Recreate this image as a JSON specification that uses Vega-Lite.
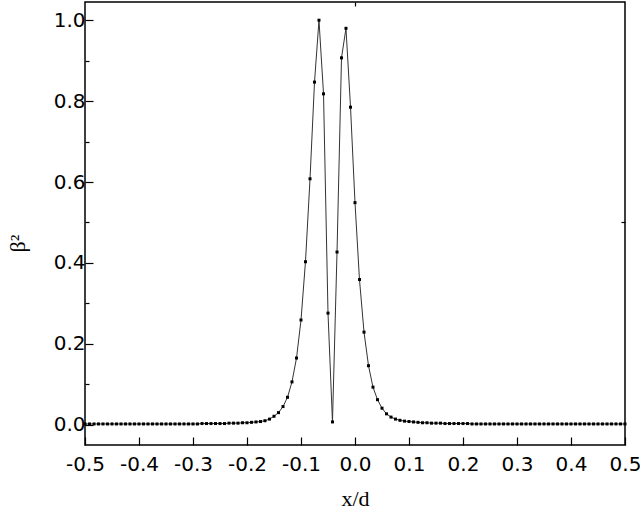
{
  "$schema": "https://vega.github.io/schema/vega-lite/v6.json",
  "autosize": {"type": "none"},
  "padding": {"left": 85, "top": 2, "right": 15, "bottom": 73},
  "width": 540,
  "height": 443,
  "background": "white",
  "config": {
    "view": {"stroke": "black", "strokeWidth": 1.5},
    "axis": {"labelFont": "DejaVu Sans", "labelFontSize": 20, "labelColor": "black", "tickColor": "black", "tickWidth": 1.2, "domain": false, "grid": false, "titleColor": "black", "titleFontWeight": "normal"}
  },
  "data": {"values": [
    {"x": -0.5, "y": 0.002}, {"x": -0.4917, "y": 0.002}, {"x": -0.4833, "y": 0.002}, {"x": -0.475, "y": 0.002},
    {"x": -0.4667, "y": 0.002}, {"x": -0.4583, "y": 0.002}, {"x": -0.45, "y": 0.002}, {"x": -0.4417, "y": 0.002},
    {"x": -0.4333, "y": 0.002}, {"x": -0.425, "y": 0.002}, {"x": -0.4167, "y": 0.002}, {"x": -0.4083, "y": 0.002},
    {"x": -0.4, "y": 0.002}, {"x": -0.3917, "y": 0.002}, {"x": -0.3833, "y": 0.002}, {"x": -0.375, "y": 0.002},
    {"x": -0.3667, "y": 0.002}, {"x": -0.3583, "y": 0.002}, {"x": -0.35, "y": 0.002}, {"x": -0.3417, "y": 0.002},
    {"x": -0.3333, "y": 0.002}, {"x": -0.325, "y": 0.002}, {"x": -0.3167, "y": 0.002}, {"x": -0.3083, "y": 0.002},
    {"x": -0.3, "y": 0.002}, {"x": -0.2917, "y": 0.002}, {"x": -0.2833, "y": 0.003}, {"x": -0.275, "y": 0.003},
    {"x": -0.2667, "y": 0.003}, {"x": -0.2583, "y": 0.003}, {"x": -0.25, "y": 0.003}, {"x": -0.2417, "y": 0.003},
    {"x": -0.2333, "y": 0.004}, {"x": -0.225, "y": 0.004}, {"x": -0.2167, "y": 0.004}, {"x": -0.2083, "y": 0.005},
    {"x": -0.2, "y": 0.005}, {"x": -0.1917, "y": 0.006}, {"x": -0.1833, "y": 0.007}, {"x": -0.175, "y": 0.008},
    {"x": -0.1667, "y": 0.010}, {"x": -0.1583, "y": 0.014}, {"x": -0.15, "y": 0.021}, {"x": -0.1417, "y": 0.030},
    {"x": -0.1333, "y": 0.045}, {"x": -0.125, "y": 0.068}, {"x": -0.1167, "y": 0.106}, {"x": -0.1083, "y": 0.165},
    {"x": -0.1, "y": 0.259}, {"x": -0.0917, "y": 0.403}, {"x": -0.0833, "y": 0.608}, {"x": -0.075, "y": 0.847},
    {"x": -0.0667, "y": 1.0}, {"x": -0.0583, "y": 0.818}, {"x": -0.05, "y": 0.276}, {"x": -0.0417, "y": 0.007},
    {"x": -0.0333, "y": 0.427}, {"x": -0.025, "y": 0.907}, {"x": -0.0167, "y": 0.98}, {"x": -0.0083, "y": 0.785},
    {"x": 0.0, "y": 0.549}, {"x": 0.0083, "y": 0.359}, {"x": 0.0167, "y": 0.229}, {"x": 0.025, "y": 0.146},
    {"x": 0.0333, "y": 0.093}, {"x": 0.0417, "y": 0.062}, {"x": 0.05, "y": 0.041}, {"x": 0.0583, "y": 0.027},
    {"x": 0.0667, "y": 0.019}, {"x": 0.075, "y": 0.014}, {"x": 0.0833, "y": 0.011}, {"x": 0.0917, "y": 0.009},
    {"x": 0.1, "y": 0.008}, {"x": 0.1083, "y": 0.007}, {"x": 0.1167, "y": 0.006}, {"x": 0.125, "y": 0.005},
    {"x": 0.1333, "y": 0.005}, {"x": 0.1417, "y": 0.004}, {"x": 0.15, "y": 0.004}, {"x": 0.1583, "y": 0.004},
    {"x": 0.1667, "y": 0.003}, {"x": 0.175, "y": 0.003}, {"x": 0.1833, "y": 0.003}, {"x": 0.1917, "y": 0.003},
    {"x": 0.2, "y": 0.003}, {"x": 0.2083, "y": 0.003}, {"x": 0.2167, "y": 0.002}, {"x": 0.225, "y": 0.002},
    {"x": 0.2333, "y": 0.002}, {"x": 0.2417, "y": 0.002}, {"x": 0.25, "y": 0.002}, {"x": 0.2583, "y": 0.002},
    {"x": 0.2667, "y": 0.002}, {"x": 0.275, "y": 0.002}, {"x": 0.2833, "y": 0.002}, {"x": 0.2917, "y": 0.002},
    {"x": 0.3, "y": 0.002}, {"x": 0.3083, "y": 0.002}, {"x": 0.3167, "y": 0.002}, {"x": 0.325, "y": 0.002},
    {"x": 0.3333, "y": 0.002}, {"x": 0.3417, "y": 0.002}, {"x": 0.35, "y": 0.002}, {"x": 0.3583, "y": 0.002},
    {"x": 0.3667, "y": 0.002}, {"x": 0.375, "y": 0.002}, {"x": 0.3833, "y": 0.002}, {"x": 0.3917, "y": 0.002},
    {"x": 0.4, "y": 0.002}, {"x": 0.4083, "y": 0.002}, {"x": 0.4167, "y": 0.002}, {"x": 0.425, "y": 0.002},
    {"x": 0.4333, "y": 0.002}, {"x": 0.4417, "y": 0.002}, {"x": 0.45, "y": 0.002}, {"x": 0.4583, "y": 0.002},
    {"x": 0.4667, "y": 0.002}, {"x": 0.475, "y": 0.002}, {"x": 0.4833, "y": 0.002}, {"x": 0.4917, "y": 0.002},
    {"x": 0.5, "y": 0.002}
  ]},
  "layer": [
    {
      "layer": [
        {
          "mark": {"type": "line", "color": "#333333", "strokeWidth": 1, "clip": true},
          "encoding": {
            "x": {"field": "x", "type": "quantitative", "scale": {"domain": [-0.5, 0.5], "nice": false, "zero": false},
              "axis": {"orient": "bottom",
                "values": [-0.5, -0.45, -0.4, -0.35, -0.3, -0.25, -0.2, -0.15, -0.1, -0.05, 0, 0.05, 0.1, 0.15, 0.2, 0.25, 0.3, 0.35, 0.4, 0.45, 0.5],
                "labelExpr": "abs(datum.value*10 - round(datum.value*10)) < 0.01 ? replace(format(datum.value, '.1f'), '\u2212', '-') : ''",
                "tickSize": {"condition": {"test": "abs(datum.value*10 - round(datum.value*10)) < 0.01", "value": -8}, "value": -4},
                "labelPadding": 17, "labelFlush": false, "labelOverlap": false,
                "title": "x/d", "titleFont": "Liberation Serif", "titleFontSize": 22, "titlePadding": 14}},
            "y": {"field": "y", "type": "quantitative", "scale": {"domain": [-0.05, 1.045], "nice": false, "zero": false},
              "axis": {"orient": "left",
                "values": [0, 0.1, 0.2, 0.3, 0.4, 0.5, 0.6, 0.7, 0.8, 0.9, 1.0],
                "labelExpr": "round(datum.value*10) % 2 === 0 ? format(datum.value, '.1f') : ''",
                "tickSize": {"condition": {"test": "round(datum.value*10) % 2 === 0", "value": -8}, "value": -4},
                "labelPadding": 8, "labelFlush": false, "labelOverlap": false,
                "title": "β²", "titleFont": "Liberation Serif", "titleFontSize": 22,
                "titleX": -68, "titleY": 241, "titleAlign": "center", "titleBaseline": "middle", "titleAngle": -90}}
          }
        },
        {
          "mark": {"type": "point", "shape": "square", "size": 9, "filled": true, "color": "black", "opacity": 1},
          "encoding": {
            "x": {"field": "x", "type": "quantitative"},
            "y": {"field": "y", "type": "quantitative"}
          }
        }
      ]
    },
    {
      "mark": {"type": "point", "opacity": 0},
      "encoding": {
        "x": {"field": "x", "type": "quantitative", "axis": {"orient": "top", "values": [0], "labels": false, "title": null, "tickSize": -4}},
        "y": {"field": "y", "type": "quantitative", "axis": {"orient": "right", "values": [0.5], "labels": false, "title": null, "tickSize": -4}}
      }
    }
  ],
  "resolve": {"axis": {"x": "independent", "y": "independent"}}
}
